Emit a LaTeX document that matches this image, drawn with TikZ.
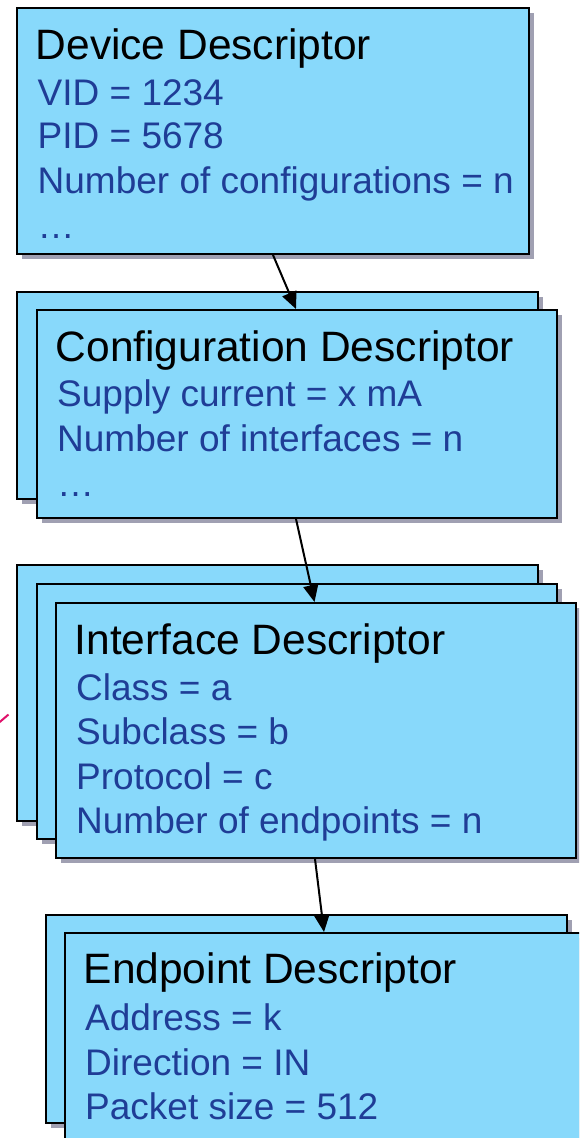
\documentclass[tikz,border=0pt]{standalone}
\usepackage{fontspec}
\setmainfont{Liberation Sans}
\usetikzlibrary{arrows.meta,shadows}

\definecolor{boxfill}{HTML}{88D9FB}
\definecolor{boxshadow}{HTML}{A0A0B2}
\definecolor{fieldblue}{HTML}{1F3D96}
\definecolor{tickmagenta}{HTML}{E0106A}

\tikzset{
  descbox/.style={draw=black, line width=2pt, fill=boxfill, rectangle,
    inner sep=0pt, anchor=north west,
    drop shadow={shadow xshift=5pt, shadow yshift=-5pt, fill=boxshadow, opacity=1}},
  ttl/.style={anchor=base west, inner sep=0pt, text=black,
    font=\fontsize{42.5pt}{50pt}\selectfont},
  fld/.style={anchor=base west, inner sep=0pt, text=fieldblue,
    font=\fontsize{37pt}{44pt}\selectfont},
  link/.style={draw=black, line width=2pt, -{Triangle[length=17pt,width=15pt]}}
}

\begin{document}
\begin{tikzpicture}[x=1pt, y=-1pt]
\path[use as bounding box, clip] (0,0) rectangle (579,1138);
\fill[white] (0,0) rectangle (579,1138);

% Device descriptor
\node[descbox, minimum width=512pt, minimum height=246pt] (dev) at (16,7) {};
\node[ttl] (devT) at (35.5,59.3) {Device Descriptor};
\node[fld] (devA) at (37.5,105)   {VID = 1234};
\node[fld] (devB) at (37.5,148.5) {PID = 5678};
\node[fld] (devC) at (37.5,193.3) {Number of configurations = n};
\node[fld] (devD) at (37.5,238)   {…};

% Configuration descriptors
\node[descbox, minimum width=521pt, minimum height=207pt] (cfgB) at (16,291) {};
\node[descbox, minimum width=520pt, minimum height=208pt] (cfg) at (36,309) {};
\node[ttl] (cfgT) at (55.5,361) {Configuration Descriptor};
\node[fld] (cfgA) at (57,406.7) {Supply current = x mA};
\node[fld] (cfgC) at (57,451.7) {Number of interfaces = n};
\node[fld] (cfgD) at (57,496)   {…};

% Interface descriptors
\node[descbox, minimum width=521pt, minimum height=256pt] (intB) at (16,564) {};
\node[descbox, minimum width=520pt, minimum height=255pt] (intM) at (36,583) {};
\node[descbox, minimum width=520pt, minimum height=255pt] (int) at (55,602) {};
\node[ttl] (intT) at (74.5,654) {Interface Descriptor};
\node[fld] (intA) at (76,700)   {Class = a};
\node[fld] (intS) at (76,744.3) {Subclass = b};
\node[fld] (intP) at (76,789.3) {Protocol = c};
\node[fld] (intN) at (76,833.3) {Number of endpoints = n};

% Endpoint descriptors
\node[descbox, minimum width=521pt, minimum height=208pt] (epB) at (45,914) {};
\node[descbox, minimum width=521pt, minimum height=210pt] (ep) at (64,932) {};
\node[ttl] (epT) at (83.5,983.5) {Endpoint Descriptor};
\node[fld] (epA) at (85,1030)   {Address = k};
\node[fld] (epD) at (85,1075)   {Direction = IN};
\node[fld] (epP) at (85,1119.3) {Packet size = 512};

% Links between the levels
\draw[link] ([xshift=257pt]dev.south west) -- ([xshift=260pt]cfg.north west);
\draw[link] ([xshift=260pt]cfg.south west) -- ([xshift=259.5pt]int.north west);
\draw[link] ([xshift=260pt]int.south west) -- ([xshift=260pt]ep.north west);

% Small tick at the left margin
\draw[tickmagenta, line width=2pt] (-2,723.5) -- (8.5,714.5);
\end{tikzpicture}
\end{document}
